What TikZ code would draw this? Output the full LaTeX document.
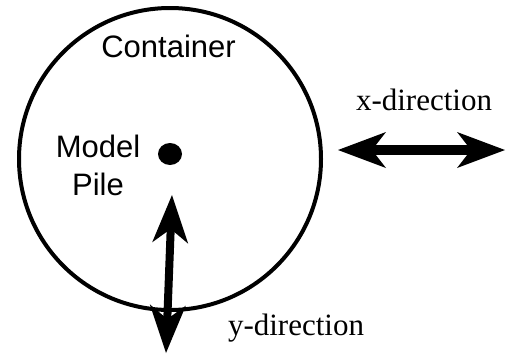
\documentclass[tikz,border=0pt]{standalone}
\usepackage{fontspec}
\setmainfont{Liberation Serif}
\setsansfont{Liberation Sans}
\usetikzlibrary{arrows.meta}
\usetikzlibrary{shapes.geometric}

\tikzset{
  sanslabel/.style={font=\sffamily\fontsize{31}{38}\selectfont, text=black, inner sep=0pt},
  seriflabel/.style={font=\rmfamily\fontsize{31}{38}\selectfont, text=black, inner sep=0pt},
  shaketip/.tip={Stealth[length=48pt,width=36pt,inset=14pt,line width=0pt]},
  shakearrow/.style={draw=black, line width=#1, {shaketip}-{shaketip}},
}

\begin{document}
\begin{tikzpicture}[x=1pt,y=-1pt]
\useasboundingbox (0,0) rectangle (506,354);

\node[circle,draw=black,line width=4pt,minimum size=302pt,inner sep=0pt] (container) at (170,159) {};
\node[ellipse,fill=black,minimum width=24pt,minimum height=22pt,inner sep=0pt] (pile) at (170,154) {};

\node[sanslabel,anchor=base] (containerlabel) at (168.5,57) {Container};
\node[sanslabel,anchor=north,align=center] (pilelabel) at (98,134.5) {Model\\Pile};
\node[seriflabel,anchor=base] (xlabel) at (424,110) {x-direction};
\node[seriflabel,anchor=base] (ylabel) at (296,335) {y-direction};

\coordinate (xleft) at (338,150);
\coordinate (xright) at (505,150);
\draw[shakearrow=10pt] (xleft) -- (xright);

\coordinate (ytop) at (172,195);
\coordinate (ybottom) at (166,353);
\draw[shakearrow=8pt] (ytop) -- (ybottom);

\end{tikzpicture}
\end{document}
